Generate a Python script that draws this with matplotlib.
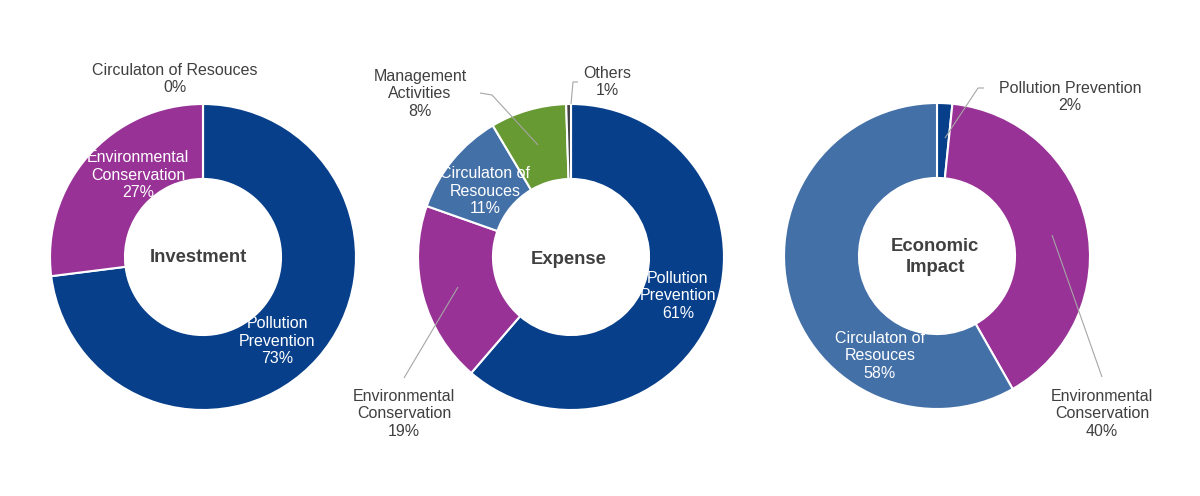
import matplotlib
matplotlib.use("Agg")
import matplotlib.pyplot as plt

plt.rcParams['font.family'] = ['Liberation Sans', 'DejaVu Sans']

# data (clockwise from 12 o'clock)
inv_names = ["Pollution\nPrevention", "Environmental\nConservation", "Circulaton of Resouces"]
inv_values = [73, 27, 0]
inv_pct = ["73%", "27%", "0%"]

exp_names = ["Pollution\nPrevention", "Environmental\nConservation", "Circulaton of\nResouces",
             "Management\nActivities", "Others"]
exp_values = [61, 19, 11, 8, 0.5]
exp_pct = ["61%", "19%", "11%", "8%", "1%"]

eco_names = ["Pollution Prevention", "Environmental\nConservation", "Circulaton of\nResouces"]
eco_values = [1.6, 40, 58]
eco_pct = ["2%", "40%", "58%"]

titles = ["Investment", "Expense", "Economic\nImpact"]

c_pp = "#073F8A"
c_ec = "#983296"
c_cr = "#4470A8"
c_ma = "#679A33"
c_ot = "#404040"
txt = "#404040"
lead = "#A6A6A6"

W, H = 1200, 496
R = 153.0  # outer radius in px

fig = plt.figure(figsize=(W / 100, H / 100), dpi=100)


def make_ax(cx, cy):
    ax = fig.add_axes([(cx - 200) / W, 0, 400 / W, 1])
    return ax


def setlim(ax, cx, cy):
    ax.set_xlim(-200 / R, 200 / R)
    ax.set_ylim((cy - H) / R, cy / R)
    ax.set_aspect('auto')
    ax.axis('off')


def P(cx, cy, px, py):
    # pixel -> data coords of that axes
    return (px - cx) / R, (cy - py) / R


def lab(ax, cx, cy, px, py, s, color=txt, **kw):
    x, y = P(cx, cy, px, py)
    ax.text(x, y, s, ha='center', va='center', color=color, fontsize=11.5,
            linespacing=1.22, **kw)


def line(ax, cx, cy, pts):
    xs, ys = zip(*[P(cx, cy, a, b) for a, b in pts])
    ax.plot(xs, ys, color=lead, lw=0.8, solid_capstyle='butt')


def title(ax, cx, cy, px, py, s):
    x, y = P(cx, cy, px, py)
    ax.text(x, y, s, ha='center', va='center', color=txt, fontsize=13.3,
            fontweight='bold', linespacing=1.38)


wp = dict(width=0.49, edgecolor='white', linewidth=1.5)

# ---- Investment
cx, cy = 203, 257
ax = make_ax(cx, cy)
ax.pie(inv_values, colors=[c_pp, c_ec, c_cr], startangle=90, counterclock=False,
       wedgeprops=wp)
setlim(ax, cx, cy)
lab(ax, cx, cy, 277, 341, inv_names[0] + "\n" + inv_pct[0], color='white')
lab(ax, cx, cy, 138, 175, inv_names[1] + "\n" + inv_pct[1], color='white')
lab(ax, cx, cy, 175, 79, inv_names[2] + "\n" + inv_pct[2])
title(ax, cx, cy, 198, 257, titles[0])

# ---- Expense
cx, cy = 571, 257
ax = make_ax(cx, cy)
ax.pie(exp_values, colors=[c_pp, c_ec, c_cr, c_ma, c_ot], startangle=90, counterclock=False,
       wedgeprops=wp)
setlim(ax, cx, cy)
lab(ax, cx, cy, 678, 296, exp_names[0] + "\n" + exp_pct[0], color='white')
lab(ax, cx, cy, 404, 414, exp_names[1] + "\n" + exp_pct[1])
lab(ax, cx, cy, 485, 191, exp_names[2] + "\n" + exp_pct[2], color='white')
lab(ax, cx, cy, 420, 94, exp_names[3] + "\n" + exp_pct[3])
lab(ax, cx, cy, 607, 82, exp_names[4] + "\n" + exp_pct[4])
line(ax, cx, cy, [(404, 378), (458, 287)])
line(ax, cx, cy, [(480, 93), (492, 95), (538, 145)])
line(ax, cx, cy, [(578, 82), (573, 82), (571, 104)])
title(ax, cx, cy, 569, 259, titles[1])

# ---- Economic Impact
cx, cy = 937, 256
ax = make_ax(cx, cy)
ax.pie(eco_values, colors=[c_pp, c_ec, c_cr], startangle=90, counterclock=False,
       wedgeprops=wp)
setlim(ax, cx, cy)
lab(ax, cx, cy, 1070, 97, eco_names[0] + "\n" + eco_pct[0])
lab(ax, cx, cy, 1102, 414, eco_names[1] + "\n" + eco_pct[1])
lab(ax, cx, cy, 880, 356, eco_names[2] + "\n" + eco_pct[2], color='white')
line(ax, cx, cy, [(984, 88), (978, 88), (945, 138)])
line(ax, cx, cy, [(1102, 377), (1052, 235)])
title(ax, cx, cy, 935, 257, titles[2])

fig.savefig("out.png", dpi=100, facecolor='white')
